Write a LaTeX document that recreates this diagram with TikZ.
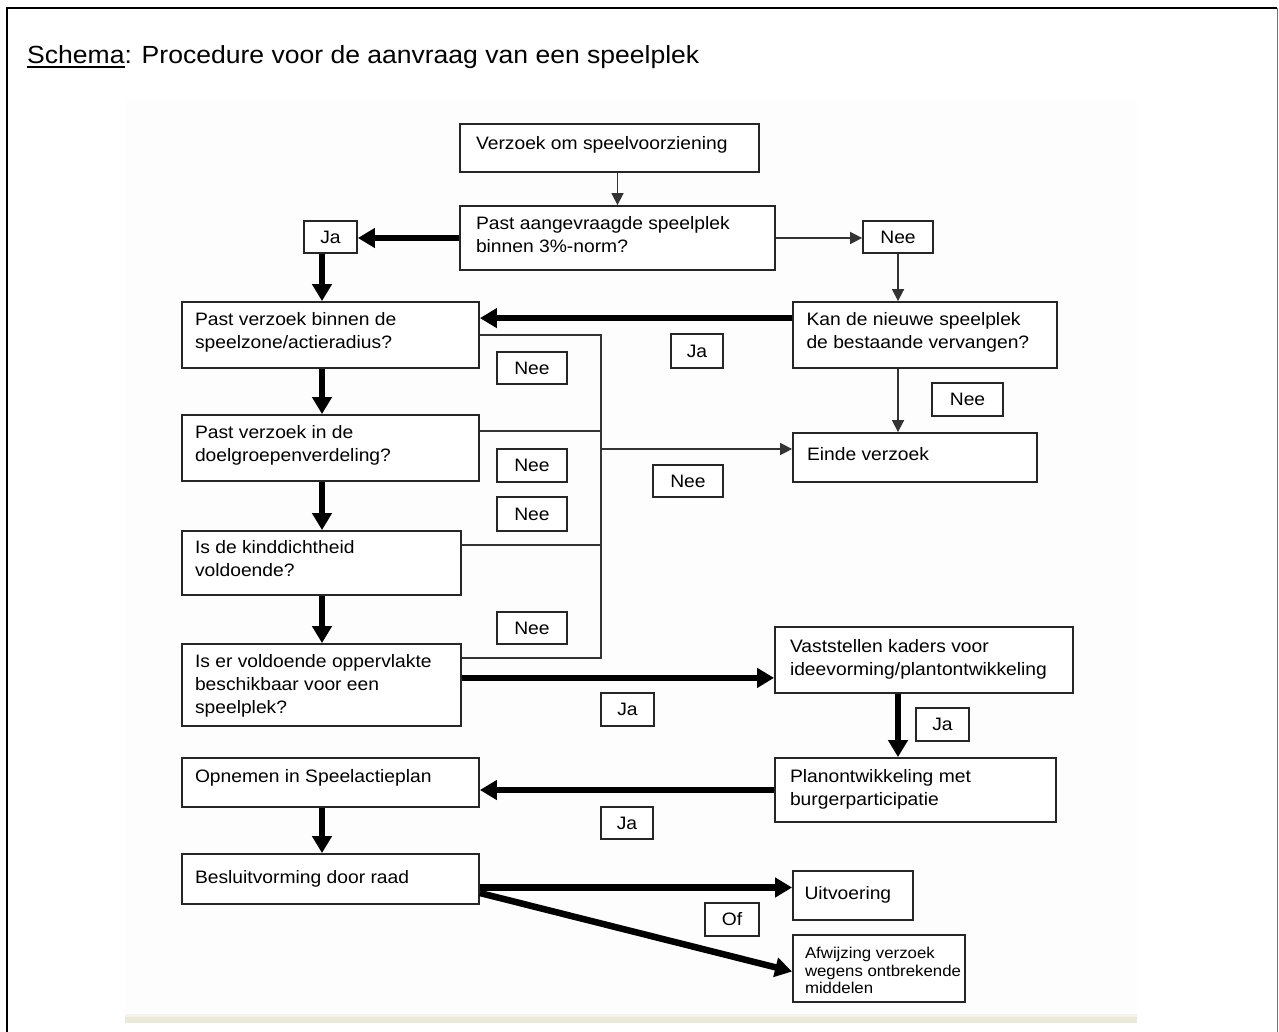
\documentclass[tikz,border=0pt]{standalone}
\usepackage{fontspec}
\setmainfont{Liberation Sans}[FakeStretch=1.07]
\usetikzlibrary{arrows.meta,calc}
\definecolor{xpbeige}{HTML}{ECE9D8}
\definecolor{xplight}{HTML}{F5F3EA}
\definecolor{picbg}{HTML}{FDFDFD}
\tikzset{
  boxst/.style={draw=black!85, line width=1.8pt, inner sep=0pt, fill=white, font=\fontsize{18}{23}\selectfont},
  lbl/.style={draw=black!85, line width=1.8pt, inner sep=0pt, fill=white, font=\fontsize{18}{23}\selectfont},
  thk/.style={draw=black, line width=6.5pt, -{Triangle[length=17pt,width=19pt]}},
  thn/.style={draw=black!80, line width=1.6pt, -{Triangle[length=12pt,width=12pt]}},
  ln/.style={draw=black!80, line width=1.6pt},
}
% name, x1, y1, x2, y2, left pad, first baseline offset, text
\newcommand\fbx[9][]{%
  \node[boxst,#1] (#2) at ({(#3+#5)/2},{(#4+#6)/2})
  {\parbox[c][\dimexpr#6pt-#4pt\relax][t]{\dimexpr#5pt-#3pt\relax}{%
    \vspace*{\dimexpr#8pt-0.7\baselineskip\relax}\noindent\hspace*{#7pt}%
    \begin{tabular}[t]{@{}l@{}}#9\end{tabular}}};}
\newcommand\lb[6]{%
  \node[lbl, minimum width={#4pt-#2pt}, minimum height={#5pt-#3pt}] (#1)
  at ({(#2+#4)/2},{(#3+#5)/2}) {#6};}
\newcommand\myul[1]{\setbox0\hbox{#1}\rlap{\rule[-4pt]{\wd0}{1.8pt}}#1}
\begin{document}
\begin{tikzpicture}[x=1pt,y=-1pt]
\useasboundingbox (0,0) rectangle (1279,1032);
\fill[white] (0,0) rectangle (1279,1032);
% embedded picture area
\fill[picbg] (125,100) rectangle (1137,1014);
\fill[xplight] (125,1014) rectangle (1137,1017);
\fill[xpbeige] (125,1017) rectangle (1137,1023);
% page frame
\draw[line width=2pt, black] (6.5,1032) -- (6.5,8.5) -- (1277,8.5);
\draw[line width=1.5pt, black!55] (1277.5,8.5) -- (1277.5,1032);
% title
\node[anchor=base west, inner sep=0pt, font=\fontsize{24.8}{30}\selectfont] (title) at (27,64)
  {\myul{Schema}: Procedure voor de aanvraag van een speelplek};

% process boxes
\fbx{box1}{460}{124}{759}{172}{16}{25.5}{Verzoek om speelvoorziening}
\fbx{box2}{460}{206}{775}{270}{16}{23.5}{Past aangevraagde speelplek\\binnen 3\%-norm?}
\fbx{box3}{182}{302}{479}{368}{13}{23.5}{Past verzoek binnen de\\speelzone/actieradius?}
\fbx{kan}{793}{302}{1057}{368}{13.5}{23.5}{Kan de nieuwe speelplek\\de bestaande vervangen?}
\fbx{einde}{793}{433}{1037}{482}{14}{27.5}{Einde verzoek}
\fbx{box4}{182}{415}{479}{481}{13}{23.8}{Past verzoek in de\\doelgroepenverdeling?}
\fbx{box5}{182}{531}{461}{595}{13}{22.5}{Is de kinddichtheid\\voldoende?}
\fbx{box6}{182}{644}{461}{726}{13}{23.5}{Is er voldoende oppervlakte\\beschikbaar voor een\\speelplek?}
\fbx{vast}{775}{627}{1073}{693}{15}{25}{Vaststellen kaders voor\\ideevorming/plantontwikkeling}
\fbx{plan}{775}{758}{1056}{822}{15}{24.5}{Planontwikkeling met\\burgerparticipatie}
\fbx{opn}{182}{758}{479}{807}{13}{24.5}{Opnemen in Speelactieplan}
\fbx{bes}{182}{854}{479}{904}{13}{29}{Besluitvorming door raad}
\fbx{uit}{793}{871}{913}{920}{11.5}{28.5}{Uitvoering}
\fbx[font=\fontsize{15.7}{17.5}\selectfont]{afw}{793}{935}{965}{1002}{12}{23.5}{Afwijzing verzoek\\wegens ontbrekende\\middelen}

% small label boxes
\lb{jaA}{304}{221}{357}{253}{Ja}
\lb{neeA}{863}{221}{933}{253}{Nee}
\lb{jaB}{671}{334}{723}{368}{Ja}
\lb{neeB}{497}{352}{567}{384}{Nee}
\lb{neeC}{932}{383}{1003}{416}{Nee}
\lb{neeD}{497}{449}{567}{482}{Nee}
\lb{neeE}{653}{465}{723}{497}{Nee}
\lb{neeF}{497}{497}{567}{531}{Nee}
\lb{neeG}{497}{612}{567}{644}{Nee}
\lb{jaC}{601}{693}{654}{726}{Ja}
\lb{jaD}{916}{708}{969}{741}{Ja}
\lb{jaE}{601}{807}{653}{839}{Ja}
\lb{of}{705}{903}{759}{936}{Of}

% helper columns
\coordinate (colL) at (322,0);
\coordinate (colR) at (898,0);
\coordinate (brk) at (601,0);

% connectors
\draw[thn] (box2.north |- box1.south) -- (box2.north);
\draw[thk] (box2.west) -- (jaA.east |- box2.west);
\draw[thk] (colL |- jaA.south) -- (colL |- box3.north);
\draw[thn] (box2.east) -- (neeA.west |- box2.east);
\draw[thn] (colR |- neeA.south) -- (colR |- kan.north);
\coordinate (k1) at ($(kan.north west)+(0,17)$);
\draw[thk] (k1) -- (box3.east |- k1);
\draw[thn] (colR |- kan.south) -- (colR |- einde.north);

\coordinate (b4) at ($(box4.north east)+(0,17)$);
\coordinate (b5) at ($(box5.north east)+(0,15)$);
\coordinate (b6) at ($(box6.north east)+(0,15)$);
\draw[ln] (box3.east) -- (brk |- box3.east) -- (brk |- b6) -- (b6);
\draw[ln] (b4) -- (brk |- b4);
\draw[ln] (b5) -- (brk |- b5);
\coordinate (e1) at ($(einde.west)+(0,-8.5)$);
\draw[thn] (brk |- e1) -- (e1);

\draw[thk] (colL |- box3.south) -- (colL |- box4.north);
\draw[thk] (colL |- box4.south) -- (colL |- box5.north);
\draw[thk] (colL |- box5.south) -- (colL |- box6.north);
\coordinate (v1) at ($(vast.south west)+(0,-16)$);
\draw[thk] (box6.east |- v1) -- (v1);
\draw[thk] (colR |- vast.south) -- (colR |- plan.north);
\draw[thk] (plan.west) -- (opn.east |- plan.west);
\draw[thk] (colL |- opn.south) -- (colL |- bes.north);
\coordinate (u1) at ($(uit.west)+(0,-8)$);
\draw[thk] (bes.east |- u1) -- (u1);
\draw[thk] ($(bes.east)+(0,14)$) -- ($(afw.west)+(0,3)$);
\end{tikzpicture}
\end{document}
